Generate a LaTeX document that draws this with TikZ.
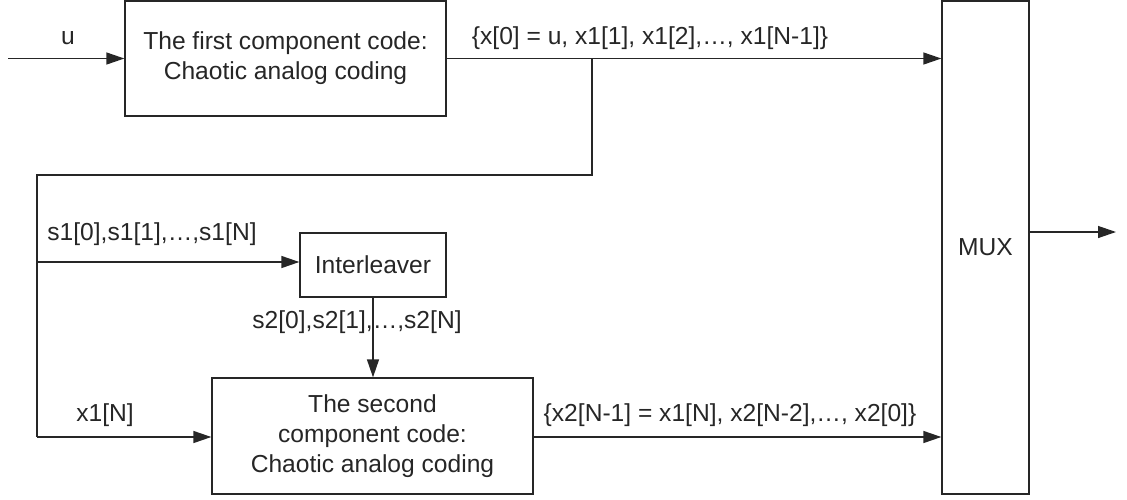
\documentclass[tikz,border=0pt]{standalone}
\usepackage{fontspec}
\setmainfont{Liberation Sans}
\usetikzlibrary{arrows.meta}
\begin{document}
\begin{tikzpicture}[x=1pt,y=-1pt,
  every node/.style={font=\fontsize{24.6}{30}\selectfont, text=black!85},
  blk/.style={draw=black!85, line width=1.3pt, fill=white, inner sep=0pt, align=center},
  conn/.style={draw=black!85, line width=1.3pt},
  arr/.style={conn, -{Triangle[length=18pt,width=12pt]}},
  lbl/.style={inner sep=0pt}]
\useasboundingbox (0,0) rectangle (1127,499);
% blocks
\node[blk, minimum width=321pt, minimum height=115pt] (b1) at (285.5,58.5) {The first component code:\\Chaotic analog coding};
\node[blk, minimum width=87pt, minimum height=493pt] (mux) at (985.5,247.5) {MUX};
\node[blk, minimum width=146pt, minimum height=64pt] (intl) at (373,265) {Interleaver};
\node[blk, minimum width=321pt, minimum height=116pt] (b2) at (372.5,436) {The second\\component code:\\Chaotic analog coding};
% coordinates
\coordinate (in) at (8,58.5);
\coordinate (br) at (592,58.5);
\coordinate (c1) at (592,175);
\coordinate (c2) at (37,175);
\coordinate (c3) at (37,262);
\coordinate (c4) at (37,437);
\coordinate (out) at (1116,232);
% connectors
\draw[arr] (in) -- (b1.west);
\draw[arr] (b1.east) -- (b1.east -| mux.west);
\draw[conn] (br) -- (c1) -- (c2) -- (c4);
\draw[arr] (c3) -- (c3 -| intl.west);
\draw[arr] (intl.south) -- (intl.south |- b2.north);
\draw[arr] (c4) -- (c4 -| b2.west);
\draw[arr] (c4 -| b2.east) -- (c4 -| mux.west);
\draw[arr] (mux.east |- out) -- (out);
% labels
\node[lbl] (lu) at (68,38) {u};
\node[lbl] (lx0) at (650,38) {\{x[0] = u, x1[1], x1[2],…, x1[N-1]\}};
\node[lbl] (ls1) at (152,234) {s1[0],s1[1],…,s1[N]};
\node[lbl] (ls2) at (357,322) {s2[0],s2[1],…,s2[N]};
\node[lbl] (lx1) at (105,415) {x1[N]};
\node[lbl] (lx2) at (730,415) {\{x2[N-1] = x1[N], x2[N-2],…, x2[0]\}};
\end{tikzpicture}
\end{document}
